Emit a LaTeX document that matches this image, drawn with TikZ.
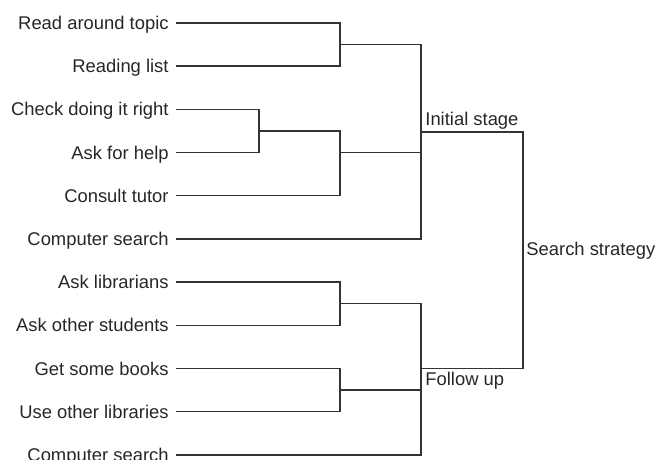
\documentclass[tikz,border=0pt]{standalone}
\usepackage{fontspec}
\setmainfont{Liberation Sans}
\usetikzlibrary{positioning}
\tikzstyle{leaf} = [anchor=east, inner xsep=3.5pt, inner ysep=0pt, text height=6.6pt, text depth=0pt, font=\fontsize{9.2pt}{11pt}\selectfont, text=black!85]
\tikzstyle{tag} = [inner sep=0pt, font=\fontsize{9.2pt}{11pt}\selectfont, text=black!85]
\tikzstyle{link} = [line width=0.7pt, draw=black!80]

\begin{document}
\begin{tikzpicture}[x=0.5pt, y=-0.5pt, node distance=21.6pt]
    \useasboundingbox (0,0) rectangle (655,460);
    % leaves, top to bottom
    \node(rd1)[leaf] at (176,23) {Read around topic};
    \node(rd2)[leaf, below=of rd1.east, anchor=east] {Reading list};
    \node(chk)[leaf, below=of rd2.east, anchor=east] {Check doing it right};
    \node(hlp)[leaf, below=of chk.east, anchor=east] {Ask for help};
    \node(tut)[leaf, below=of hlp.east, anchor=east] {Consult tutor};
    \node(cs1)[leaf, below=of tut.east, anchor=east] {Computer search};
    \node(lib)[leaf, below=of cs1.east, anchor=east] {Ask librarians};
    \node(stu)[leaf, below=of lib.east, anchor=east] {Ask other students};
    \node(bks)[leaf, below=of stu.east, anchor=east] {Get some books};
    \node(oth)[leaf, below=of bks.east, anchor=east] {Use other libraries};
    \node(cs2)[leaf, below=of oth.east, anchor=east] {Computer search};
    %
    \coordinate (k1) at (340,44.6);
    \coordinate (k2) at (259,131);
    \coordinate (k3) at (340,152.6);
    \coordinate (k4) at (340,303.8);
    \coordinate (k5) at (340,390.2);
    \coordinate (ini) at (421,132);
    \coordinate (fol) at (421,368.6);
    \coordinate (ss) at (523,250);
    %
    \draw [link] (rd1.east) -| (k1) |- (rd2.east);
    \draw [link] (chk.east) -| (k2) |- (hlp.east);
    \draw [link] (k2) -| (k3) |- (tut.east);
    \draw [link] (k1) -| (ini) |- (cs1.east);
    \draw [link] (k3) -- (k3 -| ini);
    \draw [link] (lib.east) -| (k4) |- (stu.east);
    \draw [link] (bks.east) -| (k5) |- (oth.east);
    \draw [link] (k4) -| (fol) |- (cs2.east);
    \draw [link] (k5) -- (k5 -| fol);
    \draw [link] (ini) -| (ss) |- (fol);
    %
    \node(inilab)[tag, anchor=base west] at ([xshift=2pt, yshift=3pt]ini) {Initial stage};
    \node(follab)[tag, anchor=base west] at ([xshift=2pt, yshift=-8.5pt]fol) {Follow up};
    \node(sslab)[tag, anchor=base west] at ([xshift=1.5pt, yshift=-3pt]ss) {Search strategy};
\end{tikzpicture}
\end{document}
